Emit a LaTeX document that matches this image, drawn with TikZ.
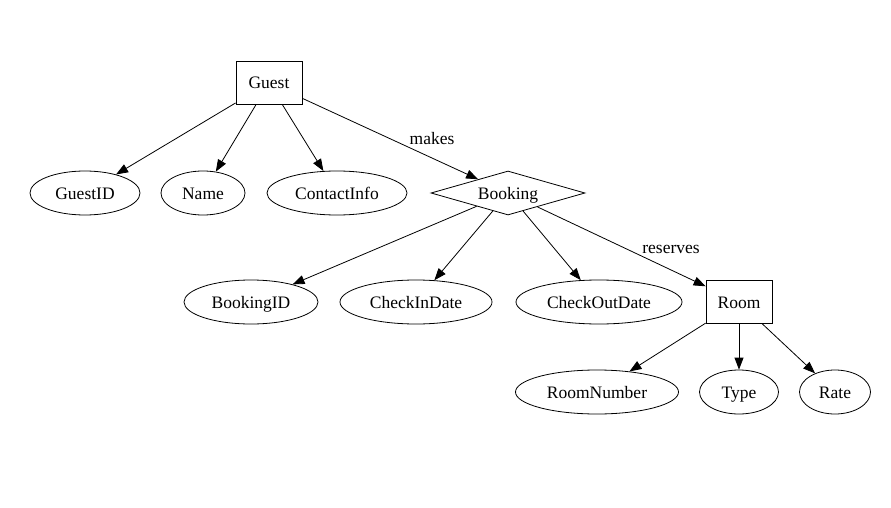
\documentclass[tikz,border=0pt]{standalone}
\usepackage{fontspec}
\setmainfont{Liberation Serif}
\usetikzlibrary{shapes.geometric,arrows.meta}
\begin{document}
\begin{tikzpicture}[x=1pt,y=1pt,
  every node/.style={font=\fontsize{17.5}{20}\selectfont,text height=14pt,text depth=2pt},
  ent/.style={draw,rectangle,minimum width=66pt,minimum height=43pt,inner sep=0pt,line width=0.8pt},
  attr/.style={draw,ellipse,minimum height=44pt,inner sep=0pt,line width=0.8pt},
  rel/.style={draw,diamond,aspect=3.5,minimum width=154pt,minimum height=44pt,inner sep=0pt,line width=0.8pt},
  conn/.style={draw,line width=0.8pt,-{Triangle[length=12pt,width=9pt]}},
  lbl/.style={inner sep=1pt}]
\useasboundingbox (0,0) rectangle (891,507);
\node[ent] (guest) at (269,424) {Guest};
\node[attr,minimum width=110pt] (guestid) at (85,314) {GuestID};
\node[attr,minimum width=84pt] (name) at (203,314) {Name};
\node[attr,minimum width=140pt] (contact) at (337,314) {ContactInfo};
\node[rel] (booking) at (508,314) {Booking};
\node[attr,minimum width=134pt] (bookingid) at (251,205) {BookingID};
\node[attr,minimum width=152pt] (checkin) at (416,205) {CheckInDate};
\node[attr,minimum width=166pt] (checkout) at (599,205) {CheckOutDate};
\node[ent] (room) at (739,205) {Room};
\node[attr,minimum width=163pt] (roomnum) at (597,115) {RoomNumber};
\node[attr,minimum width=79pt] (type) at (739,115) {Type};
\node[attr,minimum width=71pt] (rate) at (835,115) {Rate};
\draw[conn] (guest) -- (guestid);
\draw[conn] (guest) -- (name);
\draw[conn] (guest) -- (contact);
\draw[conn] (guest) -- (booking);
\draw[conn] (booking) -- (bookingid);
\draw[conn] (booking) -- (checkin);
\draw[conn] (booking) -- (checkout);
\draw[conn] (booking) -- (room);
\draw[conn] (room) -- (roomnum);
\draw[conn] (room) -- (type);
\draw[conn] (room) -- (rate);
\node[lbl] (makes) at (432,368) {makes};
\node[lbl] (reserves) at (671,260) {reserves};
\end{tikzpicture}
\end{document}
